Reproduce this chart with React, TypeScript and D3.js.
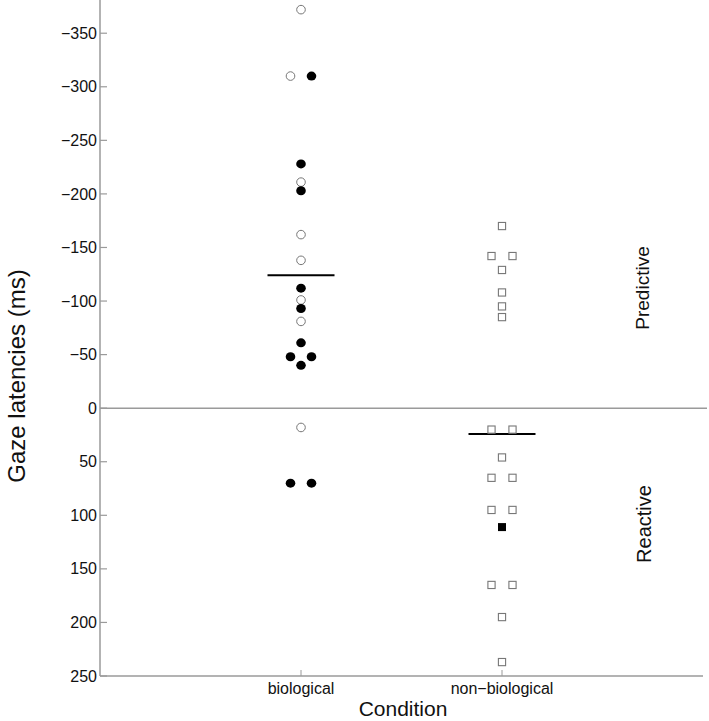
import * as d3 from 'd3'

// Conditions along the x axis
const categories = ['biological', 'non-biological']

// Gaze latency per participant (ms). slot: -1 left, 0 centre, 1 right of the column.
const biological = [
  { value: -372, filled: false, slot: 0 },
  { value: -310, filled: false, slot: -1 },
  { value: -310, filled: true, slot: 1 },
  { value: -228, filled: true, slot: 0 },
  { value: -211, filled: false, slot: 0 },
  { value: -203, filled: true, slot: 0 },
  { value: -162, filled: false, slot: 0 },
  { value: -138, filled: false, slot: 0 },
  { value: -112, filled: true, slot: 0 },
  { value: -101, filled: false, slot: 0 },
  { value: -93, filled: true, slot: 0 },
  { value: -81, filled: false, slot: 0 },
  { value: -61, filled: true, slot: 0 },
  { value: -48, filled: true, slot: -1 },
  { value: -48, filled: true, slot: 1 },
  { value: -40, filled: true, slot: 0 },
  { value: 18, filled: false, slot: 0 },
  { value: 70, filled: true, slot: -1 },
  { value: 70, filled: true, slot: 1 },
]

const nonBiological = [
  { value: -170, filled: false, slot: 0 },
  { value: -142, filled: false, slot: -1 },
  { value: -142, filled: false, slot: 1 },
  { value: -129, filled: false, slot: 0 },
  { value: -108, filled: false, slot: 0 },
  { value: -95, filled: false, slot: 0 },
  { value: -85, filled: false, slot: 0 },
  { value: 20, filled: false, slot: -1 },
  { value: 20, filled: false, slot: 1 },
  { value: 46, filled: false, slot: 0 },
  { value: 65, filled: false, slot: -1 },
  { value: 65, filled: false, slot: 1 },
  { value: 95, filled: false, slot: -1 },
  { value: 95, filled: false, slot: 1 },
  { value: 111, filled: true, slot: 0 },
  { value: 165, filled: false, slot: -1 },
  { value: 165, filled: false, slot: 1 },
  { value: 195, filled: false, slot: 0 },
  { value: 237, filled: false, slot: 0 },
]

// Group means (ms)
const means = [-124, 24]

const yTicks = [-350, -300, -250, -200, -150, -100, -50, 0, 50, 100, 150, 200, 250]

const font = '"Liberation Sans", Arial, Helvetica, sans-serif'
const axisColor = '#9a9a9a'

export default function App() {
  const width = 709
  const height = 721
  const margin = { top: 0, right: 6, bottom: 45, left: 100 }

  const x = d3
    .scalePoint<string>()
    .domain(categories)
    .range([margin.left, width - margin.right])
    .padding(1)

  const y = d3
    .scaleLinear()
    .domain([-381, 250])
    .range([margin.top, height - margin.bottom])

  const slot = d3.scaleLinear().domain([-1, 1]).range([-10.5, 10.5])
  const meanHalf = 33.5

  const groups = [
    { cat: categories[0], points: biological, shape: 'circle' },
    { cat: categories[1], points: nonBiological, shape: 'square' },
  ]

  const bottom = y(250)
  const left = margin.left
  const right = width - margin.right

  return (
    <svg
      width={width}
      height={height}
      style={{ position: 'absolute', left: 0, top: 0, background: '#fff' }}
      fontFamily={font}
    >
      {/* zero line */}
      <line x1={left} x2={right + 4} y1={y(0)} y2={y(0)} stroke={axisColor} strokeWidth={1.5} />

      {/* y axis */}
      <line x1={left} x2={left} y1={y(-381)} y2={bottom} stroke={axisColor} strokeWidth={1.5} />
      {yTicks.map(t => (
        <g key={t}>
          <line x1={left} x2={left + 7} y1={y(t)} y2={y(t)} stroke={axisColor} strokeWidth={1.2} />
          <text
            x={left - 3}
            y={y(t)}
            dy="0.35em"
            textAnchor="end"
            fontSize={16}
            fill="#111"
          >
            {t < 0 ? `\u2212${-t}` : t}
          </text>
        </g>
      ))}

      {/* x axis */}
      <line x1={left} x2={right} y1={bottom} y2={bottom} stroke={axisColor} strokeWidth={1.5} />
      {categories.map(c => (
        <g key={c}>
          <line x1={x(c)} x2={x(c)} y1={bottom} y2={bottom - 6} stroke={axisColor} strokeWidth={1} />
          <text x={x(c)} y={bottom + 18} textAnchor="middle" fontSize={16} fill="#111">
            {c.replace('-', '\u2212')}
          </text>
        </g>
      ))}

      <text x={403} y={716} textAnchor="middle" fontSize={21} fill="#111">
        Condition
      </text>
      <text
        transform={`translate(25,${y(-30)}) rotate(-90)`}
        textAnchor="middle"
        fontSize={24}
        fill="#111"
      >
        Gaze latencies (ms)
      </text>
      <text
        transform={`translate(649,288) rotate(-90)`}
        textAnchor="middle"
        fontSize={19}
        fill="#111"
      >
        Predictive
      </text>
      <text
        transform={`translate(651,524) rotate(-90)`}
        textAnchor="middle"
        fontSize={20}
        fill="#111"
      >
        Reactive
      </text>

      {/* mean lines */}
      {categories.map((c, i) => (
        <line
          key={c}
          x1={(x(c) as number) - meanHalf}
          x2={(x(c) as number) + meanHalf}
          y1={y(means[i])}
          y2={y(means[i])}
          stroke="#000"
          strokeWidth={2}
        />
      ))}

      {/* points */}
      {groups.map(g =>
        g.points.map((p, i) => {
          const cx = (x(g.cat) as number) + slot(p.slot)
          const cy = y(p.value)
          if (g.shape === 'circle') {
            return p.filled ? (
              <ellipse key={g.cat + i} cx={cx} cy={cy} rx={4.8} ry={4.5} fill="#000" />
            ) : (
              <circle key={g.cat + i} cx={cx} cy={cy} r={4.3} fill="#fff" stroke="#777" strokeWidth={1} />
            )
          }
          return p.filled ? (
            <rect key={g.cat + i} x={cx - 4} y={cy - 4} width={8} height={8} fill="#000" />
          ) : (
            <rect
              key={g.cat + i}
              x={cx - 3.6}
              y={cy - 3.6}
              width={7.2}
              height={7.2}
              fill="#fff"
              stroke="#777"
              strokeWidth={1.1}
            />
          )
        })
      )}
    </svg>
  )
}
